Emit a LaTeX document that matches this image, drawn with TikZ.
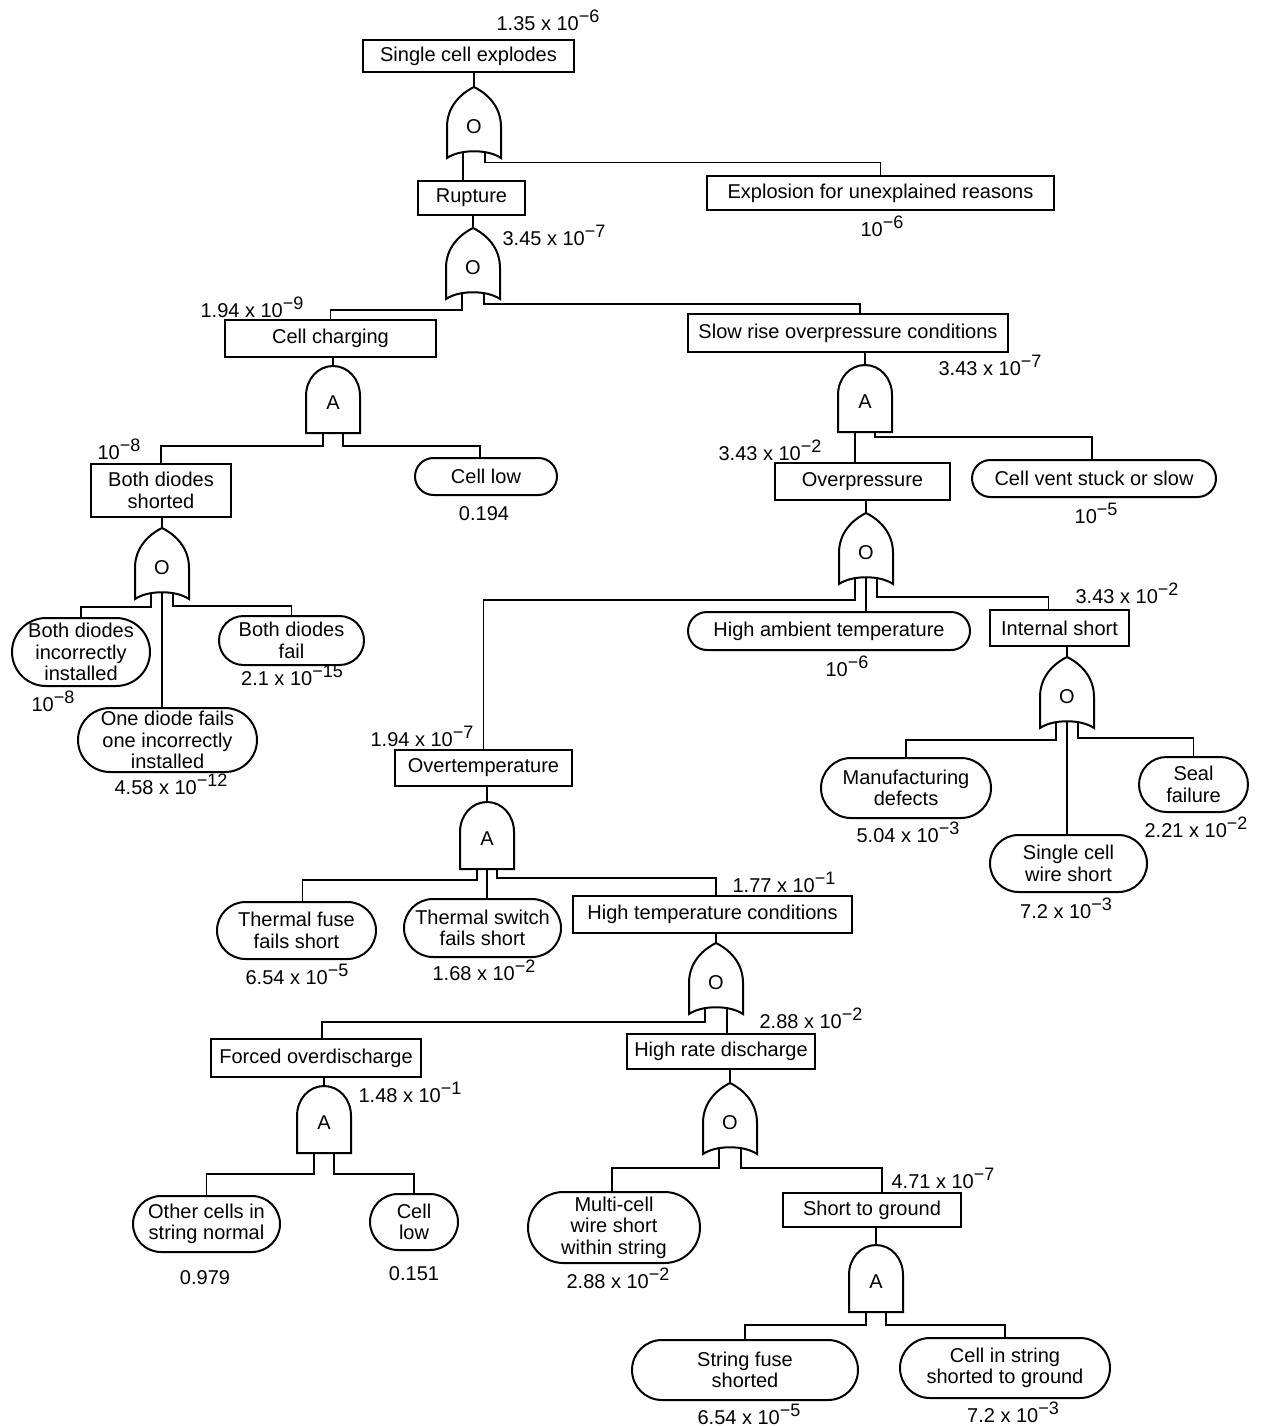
\documentclass[tikz,border=0pt]{standalone}
\usepackage{fontspec}
\setmainfont{Liberation Sans}
\usetikzlibrary{shapes.misc}

% power of ten with a raised negative exponent
\newcommand\tenpow[1]{10\raisebox{8pt}{\fontsize{18}{18}\selectfont −#1}}

\tikzset{
  txt/.style={font=\fontsize{20}{21.5}\selectfont},
  evt/.style={txt, draw, line width=2pt, rectangle, inner sep=0pt, align=center},
  basic/.style={evt, rounded rectangle},
  prob/.style={txt, inner sep=0pt, anchor=base},
  wire/.style={line width=1.7pt},
  gateline/.style={line width=2pt},
  gatelbl/.style={txt, inner sep=0pt},
  orgate/.pic={
    \draw[gateline] (-27,71) -- (-27,40) .. controls (-27,20) and (-14,7) .. (0,0)
      .. controls (14,7) and (27,20) .. (27,40) -- (27,71)
      .. controls (14,62) and (-14,62) .. cycle;
    \node[gatelbl] (-sym) at (0,40) {O};
    \coordinate (-top) at (0,0);
    \coordinate (-l) at (-11,65.5);
    \coordinate (-m) at (0,64.5);
    \coordinate (-r) at (11,65.5);
  },
  andgate/.pic={
    \draw[gateline] (-27,67) -- (-27,30) .. controls (-27,13) and (-15,0) .. (0,0)
      .. controls (15,0) and (27,13) .. (27,30) -- (27,67) -- cycle;
    \node[gatelbl] (-sym) at (0,37) {A};
    \coordinate (-top) at (0,0);
    \coordinate (-l) at (-10,67);
    \coordinate (-m) at (0,67);
    \coordinate (-r) at (10,67);
  },
}

\begin{document}
\begin{tikzpicture}[x=1pt,y=-1pt]
\fill[white] (0,0) rectangle (1266,1426);
\useasboundingbox (0,0) rectangle (1266,1426);

% ---------- events ----------
\node[evt, minimum width=211, minimum height=32] (top) at (468.5,56) {Single cell explodes};
\node[evt, minimum width=107, minimum height=34] (rupture) at (471.5,198) {Rupture};
\node[evt, minimum width=347, minimum height=34] (expl) at (880.5,193) {Explosion for unexplained reasons};
\node[evt, minimum width=211, minimum height=37] (charging) at (330.5,338.5) {Cell charging};
\node[evt, minimum width=320, minimum height=38] (slow) at (848,333) {Slow rise overpressure conditions};
\node[evt, minimum width=140, minimum height=53] (bds) at (161,490.5) {Both diodes\\shorted};
\node[basic, minimum width=142, minimum height=37] (celllowA) at (486,476.5) {Cell low};
\node[evt, minimum width=175, minimum height=37] (overp) at (862.5,481.5) {Overpressure};
\node[basic, minimum width=244, minimum height=37] (vent) at (1094,478.5) {Cell vent stuck or slow};
\node[basic, minimum width=282, minimum height=38] (ambient) at (829,631) {High ambient temperature};
\node[evt, minimum width=139, minimum height=36] (intshort) at (1059.5,628) {Internal short};
\node[basic, minimum width=170, minimum height=60] (manuf) at (906,788) {Manufacturing\\defects};
\node[basic, minimum width=109, minimum height=55] (seal) at (1193.5,784.5) {Seal\\failure};
\node[basic, minimum width=157, minimum height=57] (wireA) at (1068.5,863.5) {Single cell\\wire short};
\node[basic, minimum width=138, minimum height=68] (bdi) at (81,652) {Both diodes\\incorrectly\\installed};
\node[basic, minimum width=145, minimum height=49] (bdf) at (291.5,640.5) {Both diodes\\fail};
\node[basic, minimum width=179, minimum height=64] (odf) at (167.5,740) {One diode fails\\one incorrectly\\installed};
\node[evt, minimum width=177, minimum height=36] (overt) at (483.5,768) {Overtemperature};
\node[basic, minimum width=159, minimum height=57] (tfuse) at (296.5,930.5) {Thermal fuse\\fails short};
\node[basic, minimum width=157, minimum height=58] (tswitch) at (482.5,928) {Thermal switch\\fails short};
\node[evt, minimum width=279, minimum height=37] (hightemp) at (712.5,914.5) {High temperature conditions};
\node[evt, minimum width=210, minimum height=38] (forced) at (316,1058) {Forced overdischarge};
\node[evt, minimum width=188, minimum height=35] (highrate) at (721,1051.5) {High rate discharge};
\node[basic, minimum width=147, minimum height=56] (other) at (206.5,1224) {Other cells in\\string normal};
\node[basic, minimum width=88, minimum height=56] (celllowB) at (414,1222) {Cell\\low};
\node[basic, minimum width=172, minimum height=71] (multi) at (614,1227.5) {Multi-cell\\wire short\\within string};
\node[evt, minimum width=178, minimum height=34] (stg) at (872,1210) {Short to ground};
\node[basic, minimum width=226, minimum height=60] (sfuse) at (745,1370) {String fuse\\shorted};
\node[basic, minimum width=210, minimum height=60] (cis) at (1005,1368) {Cell in string\\shorted to ground};

% ---------- probabilities ----------
\node[prob] (p1) at (548,31) {1.35 x \tenpow{6}};
\node[prob] (p2) at (882,236) {\tenpow{6}};
\node[prob] (p3) at (554,245) {3.45 x \tenpow{7}};
\node[prob] (p4) at (252,317) {1.94 x \tenpow{9}};
\node[prob] (p5) at (990,375) {3.43 x \tenpow{7}};
\node[prob] (p6) at (119,459) {\tenpow{8}};
\node[prob] (p7) at (484,520) {0.194};
\node[prob] (p8) at (770,460) {3.43 x \tenpow{2}};
\node[prob] (p9) at (1096,523) {\tenpow{5}};
\node[prob] (p10) at (1127,603) {3.43 x \tenpow{2}};
\node[prob] (p11) at (847,676) {\tenpow{6}};
\node[prob] (p12) at (292,685) {2.1 x \tenpow{15}};
\node[prob] (p13) at (53,711) {\tenpow{8}};
\node[prob] (p14) at (171,794) {4.58 x \tenpow{12}};
\node[prob] (p15) at (422,746) {1.94 x \tenpow{7}};
\node[prob] (p16) at (908,842) {5.04 x \tenpow{3}};
\node[prob] (p17) at (1196,837) {2.21 x \tenpow{2}};
\node[prob] (p18) at (1066,918) {7.2 x \tenpow{3}};
\node[prob] (p19) at (784,892) {1.77 x \tenpow{1}};
\node[prob] (p20) at (297,984) {6.54 x \tenpow{5}};
\node[prob] (p21) at (484,980) {1.68 x \tenpow{2}};
\node[prob] (p22) at (811,1028) {2.88 x \tenpow{2}};
\node[prob] (p23) at (410,1102) {1.48 x \tenpow{1}};
\node[prob] (p24) at (205,1284) {0.979};
\node[prob] (p25) at (414,1280) {0.151};
\node[prob] (p26) at (943,1188) {4.71 x \tenpow{7}};
\node[prob] (p27) at (618,1288) {2.88 x \tenpow{2}};
\node[prob] (p28) at (749,1424) {6.54 x \tenpow{5}};
\node[prob] (p29) at (1013,1422) {7.2 x \tenpow{3}};

% ---------- gates ----------
\pic (g1) at (474,87) {orgate};
\pic (g2) at (473,228) {orgate};
\pic (a1) at (333,366) {andgate};
\pic (a2) at (865,365) {andgate};
\pic (g3) at (866,513) {orgate};
\pic (g4) at (1067,657) {orgate};
\pic (g5) at (162,528) {orgate};
\pic (a3) at (487,802) {andgate};
\pic (g6) at (716,943) {orgate};
\pic (a4) at (324,1086) {andgate};
\pic (g7) at (730,1083) {orgate};
\pic (a5) at (876,1245) {andgate};

% ---------- event to gate ----------
\draw[wire] (top.south -| g1-top) -- (g1-top);
\draw[wire] (rupture.south -| g2-top) -- (g2-top);
\draw[wire] (charging.south -| a1-top) -- (a1-top);
\draw[wire] (slow.south -| a2-top) -- (a2-top);
\draw[wire] (bds.south -| g5-top) -- (g5-top);
\draw[wire] (overp.south -| g3-top) -- (g3-top);
\draw[wire] (intshort.south -| g4-top) -- (g4-top);
\draw[wire] (overt.south -| a3-top) -- (a3-top);
\draw[wire] (hightemp.south -| g6-top) -- (g6-top);
\draw[wire] (forced.south -| a4-top) -- (a4-top);
\draw[wire] (highrate.south -| g7-top) -- (g7-top);
\draw[wire] (stg.south -| a5-top) -- (a5-top);

% ---------- gate to inputs ----------
\draw[wire] (g1-l) -- (g1-l |- rupture.north);
\draw[wire] (g1-r) -- ++(0,10) -| (expl.north);

\draw[wire] (g2-l) -- ++(0,16.5) -| (charging.north);
\draw[wire] (g2-r) -- ++(0,10.5) -| ([xshift=12pt]slow.north);

\draw[wire] (a1-l) -- ++(0,13) -| (bds.north);
\draw[wire] (a1-r) -- ++(0,13) -| ([xshift=-6pt]celllowA.north);

\draw[wire] (a2-l) -- (a2-l |- overp.north);
\draw[wire] (a2-r) -- ++(0,5) -| ([xshift=-2pt]vent.north);

\draw[wire] (g3-l) -- ++(0,21.5) -| (overt.north);
\draw[wire] (g3-m) -- (g3-m |- ambient.north);
\draw[wire] (g3-r) -- ++(0,18.5) -| ([xshift=-11pt]intshort.north);

\draw[wire] (g4-l) -- ++(0,17.5) -| (manuf.north);
\draw[wire] (g4-m) -- (g4-m |- wireA.north);
\draw[wire] (g4-r) -- ++(0,15.5) -| (seal.north);

\draw[wire] (g5-l) -- ++(0,13.5) -| (bdi.north);
\draw[wire] (g5-m) -- (g5-m |- odf.north);
\draw[wire] (g5-r) -- ++(0,12.5) -| (bdf.north);

\draw[wire] (a3-l) -- ++(0,11) -| ([xshift=6pt]tfuse.north);
\draw[wire] (a3-m) -- (a3-m |- tswitch.north);
\draw[wire] (a3-r) -- ++(0,9) -| ([xshift=3.5pt]hightemp.north);

\draw[wire] (g6-l) -- ++(0,13.5) -| ([xshift=6pt]forced.north);
\draw[wire] (g6-r) -- (g6-r |- highrate.north);

\draw[wire] (a4-l) -- ++(0,21) -| (other.north);
\draw[wire] (a4-r) -- ++(0,21) -| (celllowB.north);

\draw[wire] (g7-l) -- ++(0,19.5) -| ([xshift=-2pt]multi.north);
\draw[wire] (g7-r) -- ++(0,19.5) -| ([xshift=10pt]stg.north);

\draw[wire] (a5-l) -- ++(0,13) -| (sfuse.north);
\draw[wire] (a5-r) -- ++(0,13) -| (cis.north);
\end{tikzpicture}
\end{document}
